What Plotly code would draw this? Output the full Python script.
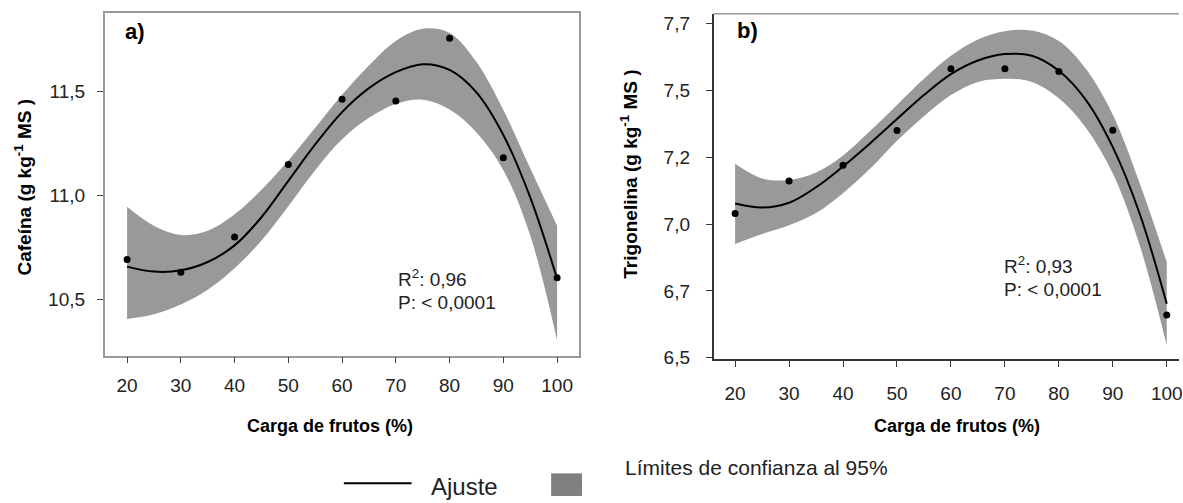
import plotly.graph_objects as go

# ---------------- data ----------------
carga = [20, 30, 40, 50, 60, 70, 80, 90, 100]
cafeina_obs = [10.692, 10.631, 10.800, 11.148, 11.462, 11.453, 11.755, 11.181, 10.604]
trigonelina_obs = [6.990, 7.111, 7.170, 7.300, 7.531, 7.531, 7.521, 7.301, 6.610]

x_fit = [20, 25, 30, 35, 40, 45, 50, 55, 60, 65, 70, 75, 80, 85, 90, 95, 100]
cafeina_fit = [10.658, 10.634, 10.640, 10.680, 10.760, 10.895, 11.070, 11.245, 11.400,
               11.515, 11.592, 11.630, 11.603, 11.495, 11.290, 10.990, 10.600]
cafeina_upper = [10.945, 10.854, 10.810, 10.830, 10.909, 11.027, 11.168, 11.325, 11.483,
                 11.624, 11.742, 11.800, 11.780, 11.640, 11.410, 11.130, 10.854]
cafeina_lower = [10.406, 10.429, 10.476, 10.547, 10.650, 10.783, 10.948, 11.121, 11.270,
                 11.373, 11.439, 11.459, 11.412, 11.302, 11.121, 10.807, 10.303]

trig_fit = [7.027, 7.012, 7.030, 7.088, 7.166, 7.252, 7.343, 7.433, 7.511,
            7.562, 7.586, 7.580, 7.524, 7.415, 7.238, 6.988, 6.652]
trig_upper = [7.176, 7.121, 7.115, 7.143, 7.207, 7.298, 7.396, 7.494, 7.580,
              7.641, 7.672, 7.674, 7.635, 7.531, 7.359, 7.102, 6.808]
trig_lower = [6.876, 6.913, 6.946, 6.992, 7.066, 7.157, 7.262, 7.354, 7.433,
              7.482, 7.494, 7.482, 7.421, 7.311, 7.139, 6.870, 6.496]

x_ticks = [20, 30, 40, 50, 60, 70, 80, 90, 100]
x_ticktext = ["20", "30", "40", "50", "60", "70", "80", "90", "100"]
ya_ticks = [10.5, 11.0, 11.5]
ya_ticktext = ["10,5", "11,0", "11,5"]
yb_ticks = [6.45, 6.70, 6.95, 7.20, 7.45, 7.70]
yb_ticktext = ["6,5", "6,7", "7,0", "7,2", "7,5", "7,7"]

W, H = 1183, 503
def px(x):
    return x / W
def py(y):
    return 1 - y / H

BAND = "#999999"
FONT = "Liberation Sans, Arial, sans-serif"

fig = go.Figure()

def add_panel(xa, ya, fit, up, lo, obs):
    fig.add_trace(go.Scatter(x=x_fit, y=lo, mode="lines", line=dict(width=0, shape="spline"),
                             xaxis=xa, yaxis=ya, showlegend=False, hoverinfo="skip"))
    fig.add_trace(go.Scatter(x=x_fit, y=up, mode="lines", line=dict(width=0, shape="spline"),
                             fill="tonexty", fillcolor=BAND, xaxis=xa, yaxis=ya,
                             showlegend=False, hoverinfo="skip"))
    fig.add_trace(go.Scatter(x=x_fit, y=fit, mode="lines",
                             line=dict(color="black", width=2, shape="spline"),
                             xaxis=xa, yaxis=ya, showlegend=False))
    fig.add_trace(go.Scatter(x=carga, y=obs, mode="markers",
                             marker=dict(color="black", size=7),
                             xaxis=xa, yaxis=ya, showlegend=False))

add_panel("x", "y", cafeina_fit, cafeina_upper, cafeina_lower, cafeina_obs)
add_panel("x2", "y2", trig_fit, trig_upper, trig_lower, trigonelina_obs)

tickfont = dict(family=FONT, size=19, color="#222")

fig.update_layout(
    width=W, height=H,
    margin=dict(l=0, r=0, t=0, b=0),
    paper_bgcolor="white", plot_bgcolor="white",
    showlegend=False,
    xaxis=dict(domain=[px(105), px(581)], range=[15.83, 104.08], anchor="y",
               tickvals=x_ticks, ticktext=x_ticktext, ticks="outside", ticklen=6,
               tickcolor="#444", showline=True, linecolor="#999", linewidth=1.5, mirror=True,
               showgrid=False, zeroline=False, tickfont=tickfont, ticklabelstandoff=6),
    yaxis=dict(domain=[py(362), py(13)], range=[10.231, 11.877], anchor="x",
               tickvals=ya_ticks, ticktext=ya_ticktext, ticks="outside", ticklen=6,
               tickcolor="#444", showline=True, linecolor="#999", linewidth=1.5, mirror=True,
               showgrid=False, zeroline=False, tickfont=tickfont, ticklabelstandoff=8),
    xaxis2=dict(domain=[px(716), 1.0], range=[16.01, 102.27], anchor="y2",
                tickvals=x_ticks, ticktext=x_ticktext, ticks="outside", ticklen=6,
                tickcolor="#333", showline=True, linecolor="#333", linewidth=1.5, mirror=False,
                showgrid=False, zeroline=False, tickfont=tickfont, ticklabelstandoff=10,
                ticklabeloverflow="allow"),
    yaxis2=dict(domain=[py(365.7), py(14)], range=[6.445, 7.737], anchor="x2",
                tickvals=yb_ticks, ticktext=yb_ticktext, ticks="outside", ticklen=6,
                tickcolor="#333", showline=True, linecolor="#333", linewidth=1.5, mirror=False,
                showgrid=False, zeroline=False, tickfont=tickfont, ticklabelstandoff=12),
)

# top border of panel b
fig.add_shape(type="line", xref="paper", yref="paper", x0=px(716), x1=1.0,
              y0=py(14), y1=py(14), line=dict(color="#999", width=1.5))

ann = []
def text(x, y, t, size, bold=False, angle=0, xanchor="center", color="black"):
    ann.append(dict(x=px(x), y=py(y), xref="paper", yref="paper", text=(f"<b>{t}</b>" if bold else t),
                    showarrow=False, xanchor=xanchor, yanchor="middle", textangle=angle,
                    font=dict(family=FONT, size=size, color=color)))

text(123, 32, "a)", 22, bold=True, xanchor="left")
text(737, 31, "b)", 22, bold=True, xanchor="left")
text(397, 283, "R<sup>2</sup>: 0,96", 19, xanchor="left", color="#222")
text(397, 308, "P: < 0,0001", 19, xanchor="left", color="#222")
text(1005, 270, "R<sup>2</sup>: 0,93", 19, xanchor="left", color="#222")
text(1005, 295, "P: < 0,0001", 19, xanchor="left", color="#222")
text(331, 434, "Carga de frutos (%)", 18, bold=True)
text(960, 434, "Carga de frutos (%)", 18, bold=True)
text(23, 190, "Cafeína (g kg<sup>-1</sup> MS )", 19, bold=True, angle=-90)
text(631, 177, "Trigonelina (g kg<sup>-1</sup> MS )", 19, bold=True, angle=-90)
text(430, 495, "Ajuste", 24, xanchor="left", color="#222")
text(625, 476, "Límites de confianza al 95%", 21, xanchor="left", color="#222")
fig.update_layout(annotations=ann)

# legend symbols
fig.add_shape(type="line", xref="paper", yref="paper", x0=px(345), x1=px(413),
              y0=py(492), y1=py(492), line=dict(color="black", width=2))
fig.add_shape(type="rect", xref="paper", yref="paper", x0=px(553), x1=px(584),
              y0=py(482), y1=py(505), line=dict(width=0), fillcolor="#808080")

fig.write_html("out.html")
